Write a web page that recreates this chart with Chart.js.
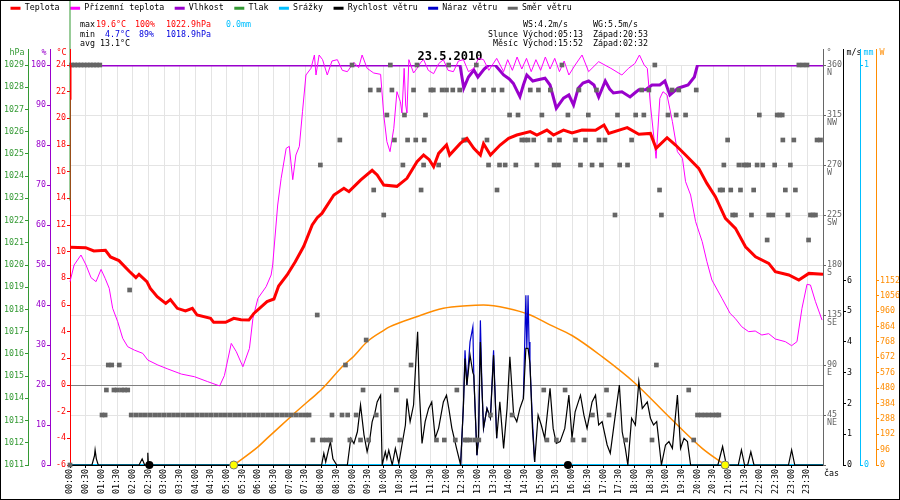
<!DOCTYPE html>
<html lang="cs">
<head>
<meta charset="UTF-8" />
<title>Meteo 23.5.2010</title>
<style>
  body{margin:0;background:#fff;}
  #wrap{position:relative;width:900px;height:500px;}
  #wrap canvas{position:absolute;left:0;top:0;}
  .t{position:absolute;font:8.3px/1 'DejaVu Sans Mono',monospace;white-space:pre;color:#000;}
  .r{color:#ff0000}.b{color:#0000dd}.c{color:#00bfff}
</style>
<script src="https://cdn.jsdelivr.net/npm/chart.js@4.4.0/dist/chart.umd.min.js"></script>
</head>
<body>
<div id="wrap">
  <canvas id="meteo"></canvas>
  <!-- souhrn dne -->
  <span class="t" style="left:80px;top:20px">max</span>
  <span class="t r" style="left:96px;top:20px">19.6°C</span>
  <span class="t r" style="left:135px;top:20px">100%</span>
  <span class="t r" style="left:166px;top:20px">1022.9hPa</span>
  <span class="t c" style="left:226px;top:20px">0.0mm</span>
  <span class="t" style="left:80px;top:30px">min</span>
  <span class="t b" style="left:105px;top:30px">4.7°C</span>
  <span class="t b" style="left:139px;top:30px">89%</span>
  <span class="t b" style="left:166px;top:30px">1018.9hPa</span>
  <span class="t" style="left:80px;top:39px">avg 13.1°C</span>
  <span class="t" style="left:523px;top:20px">WS:4.2m/s</span>
  <span class="t" style="left:593px;top:20px">WG:5.5m/s</span>
  <span class="t" style="left:488px;top:30px">Slunce</span>
  <span class="t" style="left:523px;top:30px">Východ:05:13</span>
  <span class="t" style="left:593px;top:30px">Západ:20:53</span>
  <span class="t" style="left:493px;top:39px">Měsíc</span>
  <span class="t" style="left:523px;top:39px">Východ:15:52</span>
  <span class="t" style="left:593px;top:39px">Západ:02:32</span>
</div>

<script>
// ===== data (čas v hodinách) =====
const tempTime  = [0,0,0, 0,0.5,0.76,1.13,1.29,1.56,1.88,2.1,2.2,2.45,2.56,2.78,3.05,3.2,3.42,3.68,3.9,4.05,4.48,4.58,4.96,5.22,5.45,5.7,5.86,6.28,6.5,6.65,6.92,7.18,7.45,7.72,7.88,8.03,8.41,8.73,8.89,9.26,9.63,9.79,10.0,10.42,10.74,11.06,11.27,11.45,11.59,11.75,12.0,12.1,12.44,12.65,12.87,13.08,13.18,13.4,13.71,13.98,14.24,14.67,14.88,15.2,15.41,15.73,16.0,16.32,16.75,17.02,17.17,17.76,18.13,18.5,18.68,19.03,19.3,19.62,20.04,20.3,20.57,20.89,21.21,21.53,21.85,22.27,22.48,22.91,23.23,23.55,24.0];
const tempValue = [24.0,21.4,null, 10.33,10.3,10.05,10.1,9.6,9.33,8.55,8.05,8.3,7.75,7.25,6.62,6.12,6.4,5.75,5.55,5.75,5.25,5.0,4.7,4.7,5.0,4.9,4.87,5.37,6.25,6.45,7.42,8.25,9.25,10.4,12.0,12.55,12.87,14.25,14.75,14.5,15.37,16.1,15.75,15.0,14.9,15.5,16.75,17.25,16.9,16.37,17.37,18.0,17.25,18.12,18.5,17.75,17.25,18.1,17.25,18.0,18.5,18.75,19.0,18.75,19.12,18.75,19.12,18.9,19.12,19.1,19.5,18.87,19.3,18.8,18.87,17.75,18.55,18.0,17.25,16.25,15.12,14.12,12.5,11.75,10.37,9.62,9.12,8.5,8.25,7.87,8.37,8.3];

const groundTime  = [0,0.13,0.35,0.51,0.67,0.83,0.99,1.12,1.25,1.36,1.52,1.68,1.84,2.05,2.32,2.48,2.8,3.12,3.55,3.97,4.39,4.77,4.92,5.14,5.3,5.51,5.72,5.83,5.99,6.25,6.41,6.46,6.62,6.73,6.89,6.99,7.1,7.2,7.31,7.41,7.52,7.68,7.79,7.84,7.94,8.05,8.2,8.35,8.52,8.68,8.84,9.05,9.2,9.31,9.47,9.68,9.9,10.0,10.1,10.2,10.32,10.42,10.53,10.58,10.65,10.7,10.74,10.8,10.95,11.06,11.18,11.27,11.42,11.59,11.75,11.9,12.05,12.22,12.38,12.54,12.7,12.87,13.02,13.18,13.35,13.6,13.82,13.95,14.1,14.25,14.4,14.55,14.7,14.85,15.0,15.15,15.3,15.45,15.6,15.75,15.9,16.1,16.32,16.53,16.85,17.24,17.59,17.8,18.0,18.15,18.3,18.4,18.5,18.68,18.8,18.9,19.03,19.2,19.36,19.52,19.62,19.78,19.94,20.15,20.3,20.46,20.78,21.04,21.2,21.41,21.63,21.84,22.05,22.27,22.48,22.8,23.0,23.17,23.33,23.49,23.6,23.76,23.97];
const groundValue = [7.75,9.0,9.75,9.0,8.05,7.75,8.67,8.0,7.25,5.75,4.75,3.5,2.87,2.62,2.37,1.87,1.5,1.2,0.82,0.62,0.25,-0.07,0.7,3.12,2.5,1.37,2.75,5.0,6.5,7.37,8.25,9.0,13.5,15.5,17.75,17.9,15.4,17.25,17.9,20.5,23.25,23.75,24.75,23.25,24.75,24.4,23.25,24.3,24.4,23.6,23.5,24.2,23.8,24.75,23.75,23.4,23.3,20.25,18.25,17.5,19.25,22.0,21.25,20.4,23.75,21.0,20.4,24.4,23.4,23.75,24.2,24.4,23.6,23.35,24.1,24.4,23.6,23.5,24.3,24.4,23.5,23.75,24.5,24.4,23.6,24.5,23.5,24.4,23.6,24.6,23.7,24.5,23.5,24.4,23.6,24.6,23.7,24.5,23.5,24.3,23.25,24.0,24.75,23.5,24.25,23.75,23.25,23.75,24.1,24.75,24.0,23.75,21.0,17.0,21.5,22.0,21.75,19.75,17.5,17.0,15.25,14.25,12.25,10.75,9.25,7.87,6.5,5.37,5.0,4.37,4.0,4.05,3.75,3.85,3.45,3.25,2.95,3.25,5.75,7.55,7.5,6.25,4.87];

const humTime  = [0,12.43,12.55,12.7,12.87,13.0,13.2,13.35,13.55,13.82,14.0,14.13,14.34,14.45,14.56,14.75,14.88,15.14,15.3,15.5,15.73,15.9,16.05,16.2,16.35,16.53,16.7,16.85,17.06,17.2,17.32,17.59,17.85,18.0,18.13,18.35,18.55,18.8,18.96,19.12,19.38,19.7,19.9,20.0,24];
const humValue = [100,100,94.2,97,98.75,97,99,100,100,97.5,96.5,95.4,92.1,95,97.5,96,96.25,96.7,95,89.2,91.7,92.5,90,94.2,95.5,96,95,92,96,94,93,93.3,92,93,93.8,93.8,95,95,96,92.5,94.2,95,97,100,100];

const pressTime  = [0,0];
const pressValue = [1022.9,1032];

const rainTime  = [0,24];
const rainValue = [0,0];

const windTime  = [0,0.7,0.78,0.8,0.84,0.9,2.2,2.3,2.38,2.46,2.48,2.5,7.9,8.02,8.09,8.15,8.3,8.38,8.5,8.84,8.95,9.05,9.16,9.26,9.37,9.47,9.55,9.63,9.72,9.79,9.9,9.95,10.05,10.1,10.16,10.27,10.37,10.48,10.58,10.69,10.74,10.84,10.95,11.04,11.08,11.13,11.22,11.32,11.43,11.53,11.64,11.75,11.9,12.0,12.08,12.17,12.32,12.45,12.54,12.59,12.65,12.75,12.84,12.87,12.97,13.02,13.08,13.13,13.18,13.29,13.4,13.5,13.6,13.7,13.82,13.93,14.02,14.14,14.24,14.34,14.45,14.53,14.6,14.66,14.74,14.81,14.92,15.02,15.13,15.3,15.4,15.5,15.62,15.77,15.9,16.0,16.1,16.27,16.38,16.48,16.64,16.75,16.85,16.96,17.12,17.22,17.38,17.51,17.6,17.7,17.78,17.9,18.02,18.13,18.24,18.4,18.5,18.6,18.7,18.85,18.98,19.09,19.2,19.36,19.46,19.57,19.68,19.78,20.65,20.8,20.92,21.3,21.4,21.5,21.6,21.7,21.8,22.9,23.0,23.1,24];
const windSpeed = [0,0,0.3,0.49,0.2,0,0,0.2,0,0,0.4,0,0,0,0.38,0.1,0.76,0.2,0,0,0.87,0.7,1.08,1.95,0.98,0.43,0.8,1.4,1.7,2.05,2.27,0,0.43,0.2,0.48,0,0.54,0.05,0.65,1.3,2.16,1.41,1.95,3.68,4.33,2.5,0.7,1.41,1.84,2.05,0.87,1.2,2.05,2.27,1.8,1.2,0.54,0,1.95,3.46,2.6,3.57,3.0,2.92,0.32,0.87,4.0,2.5,1.2,1.84,1.52,3.57,0.87,2.05,0.54,1.84,3.52,1.62,1.41,1.84,2.16,3.79,3.79,3.3,1.19,0.1,1.62,1.3,0.87,2.49,1.19,0.7,0.76,1.19,2.27,0.87,1.73,2.27,1.62,1.19,2.05,2.27,1.3,1.41,0.65,0.38,1.62,2.6,1.08,0.54,0,1.52,1.3,2.71,1.84,2.05,1.52,1.3,1.41,0,0.65,0.76,0.54,2.27,0.54,0.87,0.76,0,0,0.6,0,0,0.49,0,0,0.43,0,0,0.49,0,0];

const gustTime  = [12.45,12.54,12.59,12.65,12.75,12.84,12.87,12.97,13.02,13.08,13.13,13.18,13.29,13.4,13.5,13.6,14.0,14.45,14.53,14.56,14.6,14.63,14.66,14.74,14.81];
const gustSpeed = [0,1.95,3.73,2.6,4.0,4.49,2.92,0.32,0.87,4.7,2.5,1.2,1.84,1.52,3.73,0.87,null,2.16,5.52,3.8,5.52,4.0,3.3,1.4,0.1];

const dirTime  = [0,0.05,0.15,0.25,0.35,0.45,0.55,0.65,0.75,0.85,0.95,1.02,1.12,1.16,1.22,1.33,1.4,1.5,1.57,1.64,1.74,1.84,1.9,
  1.95,2.1,2.25,2.4,2.55,2.7,2.85,3.0,3.15,3.3,3.45,3.6,3.75,3.9,4.05,4.2,4.35,4.5,4.65,4.8,4.95,5.1,5.25,5.4,5.55,5.7,5.85,6.0,6.15,6.3,6.45,6.6,6.75,6.9,7.05,7.2,7.35,7.5,7.62,
  7.74,7.88,7.98,8.04,8.17,8.3,8.35,8.6,8.67,8.78,8.85,8.92,8.99,9.12,9.26,9.34,9.44,9.52,9.57,9.68,9.76,9.84,10.0,10.1,10.21,10.26,10.34,10.4,10.51,10.61,10.66,10.76,10.87,10.95,11.02,11.06,11.19,11.27,11.29,11.33,11.5,11.58,11.68,11.75,11.86,11.93,12.0,12.07,12.2,12.28,12.33,12.42,12.55,12.59,12.62,12.65,12.75,12.87,12.9,12.95,13.03,13.18,13.29,13.34,13.4,13.5,13.61,13.69,13.77,13.87,14.01,14.09,14.21,14.28,14.4,14.5,14.6,14.67,14.78,14.88,14.93,15.04,15.1,15.2,15.29,15.31,15.43,15.5,15.57,15.6,15.68,15.78,15.87,
  16.03,16.11,16.22,16.27,16.38,16.43,16.52,16.64,16.65,16.78,16.86,16.94,17.05,17.1,17.18,17.37,17.45,17.52,17.71,17.77,17.9,18.03,18.22,18.29,18.45,18.55,18.64,18.69,18.79,18.85,19.06,19.19,19.32,19.4,19.62,19.72,19.88,19.96,
  20.0,20.12,20.24,20.36,20.48,20.6,20.68,20.72,20.8,20.84,20.96,21.06,21.12,21.21,21.32,21.37,21.47,21.55,21.63,21.72,21.79,21.9,21.97,22.08,22.22,22.27,22.4,22.46,22.54,22.62,22.7,22.72,22.8,22.88,22.96,23.07,23.12,23.23,23.36,23.49,23.54,23.6,23.68,23.76,23.81,23.92];
const dirValue = [0,360,360,360,360,360,360,360,360,360,360,45,45,67.5,90,90,67.5,67.5,90,67.5,67.5,67.5,157.5,
  45,45,45,45,45,45,45,45,45,45,45,45,45,45,45,45,45,45,45,45,45,45,45,45,45,45,45,45,45,45,45,45,45,45,45,45,45,45,45,
  22.5,135,270,22.5,22.5,22.5,45,292.5,45,90,45,22.5,360,45,22.5,67.5,112.5,22.5,337.5,247.5,45,337.5,225,315,360,337.5,292.5,67.5,22.5,270,315,292.5,90,337.5,292.5,360,247.5,270,292.5,315,337.5,337.5,22.5,270,337.5,22.5,337.5,360,337.5,22.5,67.5,337.5,292.5,22.5,292.5,22.5,22.5,337.5,22.5,360,22.5,337.5,292.5,270,45,337.5,247.5,270,337.5,270,315,45,270,315,292.5,292.5,292.5,337.5,292.5,270,337.5,315,67.5,22.5,292.5,337.5,270,22.5,270,292.5,360,67.5,315,
  22.5,292.5,337.5,270,22.5,292.5,315,270,45,337.5,292.5,270,292.5,67.5,45,225,315,270,22.5,270,292.5,315,337.5,315,337.5,22.5,360,90,247.5,225,315,337.5,315,337.5,315,67.5,22.5,337.5,
  45,45,45,45,45,45,45,247.5,247.5,270,292.5,247.5,225,225,270,247.5,270,270,270,225,247.5,270,315,270,202.5,225,225,270,315,315,315,292.5,247.5,225,270,292.5,247.5,360,360,360,202.5,225,225,225,292.5,292.5];

const solarTime  = [5.22,6.0,6.28,7.0,7.15,7.88,8.0,8.73,9.0,9.47,10.0,10.2,11.0,11.9,12.65,13.18,13.93,14.67,15.3,16.0,16.96,18.0,19.09,20.15,20.88];
const solarValue = [0,115,166,295,322,447,468,624,670,769,840,863,922,978,994,998,978,936,874,808,676,512,301,104,0];

const sunTimes  = [5.22,20.88];   // východ / západ slunce
const moonTimes = [2.53,15.87];   // západ / východ měsíce

const compass = ['','NE','E','SE','S','SW','W','NW','N'];
const axisUnits = {press:'hPa', hum:'%', temp:'°C', dir:'°', wind:'m/s', rain:'mm', solar:'W'};

// ===== barvy =====
const RED='#ff0000', MAG='#ff00ff', PUR='#9900cc', GRN='#339933', CYA='#00bfff', BLU='#0000cc', GRY='#666666', ORA='#ff8c00';

const pts = (xs, ys) => xs.map((x, i) => ({x: x, y: ys[i]}));
const hhmm = v => String(Math.floor(v)).padStart(2,'0') + ':' + (v % 1 ? '30' : '00');

Chart.defaults.font.family = "'DejaVu Sans Mono', monospace";
Chart.defaults.font.size = 8.3;
Chart.defaults.color = '#000';

function yAxis(pos, color, min, max, step, width, more) {
  return Object.assign({
    type: 'linear', position: pos, min: min, max: max,
    ticks: {stepSize: step, color: color, padding: 1, autoSkip: false, callback: v => String(v)},
    grid: {drawOnChartArea: false, tickColor: color, tickLength: 3},
    border: {color: color},
    afterFit: s => { s.width = width; }
  }, more || {});
}

// popisky jednotek nad osami, prodloužení os, rámeček
const decor = {
  id: 'decor',
  afterDraw(chart) {
    const {ctx, chartArea: a, scales} = chart;
    ctx.save();
    ctx.font = "8.3px 'DejaVu Sans Mono', monospace";
    ctx.textBaseline = 'middle';
    ctx.lineWidth = 1;
    for (const id in axisUnits) {
      const s = scales[id];
      const left = s.position === 'left';
      const bx = Math.round((left ? s.right : s.left) - 0.5) + 0.5;
      ctx.strokeStyle = s.options.border.color;
      ctx.beginPath(); ctx.moveTo(bx, a.top); ctx.lineTo(bx, a.top - 16); ctx.stroke();
      ctx.fillStyle = s.options.ticks.color;
      ctx.textAlign = left ? 'right' : 'left';
      ctx.fillText(axisUnits[id], left ? bx - 4 : bx + 3, a.top - 12);
    }
    ctx.fillStyle = '#000'; ctx.textAlign = 'left';
    ctx.fillText('čas', a.right + 1, a.bottom + 9);
    ctx.strokeStyle = '#000';
    ctx.strokeRect(0.5, 0.5, chart.width - 1, chart.height - 1);
    ctx.restore();
  }
};

new Chart(document.getElementById('meteo'), {
  type: 'line',
  data: {
    datasets: [
      {label:'Teplota', data: pts(tempTime, tempValue), yAxisID:'temp', borderColor:RED, backgroundColor:RED, borderWidth:3, pointRadius:0, order:1},
      {label:'Přízemní teplota', data: pts(groundTime, groundValue), yAxisID:'temp', borderColor:MAG, backgroundColor:MAG, borderWidth:1, pointRadius:0, order:3, clip:false},
      {label:'Vlhkost', data: pts(humTime, humValue), yAxisID:'hum', borderColor:PUR, backgroundColor:PUR, borderWidth:3, pointRadius:0, order:4},
      {label:'Tlak', data: pts(pressTime, pressValue), yAxisID:'press', borderColor:GRN, backgroundColor:GRN, borderWidth:1, pointRadius:0, order:5, clip:false},
      {label:'Srážky', data: pts(rainTime, rainValue), yAxisID:'rain', borderColor:CYA, backgroundColor:CYA, borderWidth:2, pointRadius:0, order:8},
      {label:'Rychlost větru', data: pts(windTime, windSpeed), yAxisID:'wind', borderColor:'#000', backgroundColor:'#000', borderWidth:1.2, pointRadius:0, order:6},
      {label:'Náraz větru', data: pts(gustTime, gustSpeed), yAxisID:'wind', borderColor:BLU, backgroundColor:BLU, borderWidth:1.2, pointRadius:0, order:7, spanGaps:false},
      {label:'Směr větru', data: pts(dirTime, dirValue), yAxisID:'dir', showLine:false, pointStyle:'rect', pointRadius:3.3,
        pointBackgroundColor:GRY, pointBorderWidth:0, borderColor:GRY, backgroundColor:GRY, borderWidth:3, order:2, clip:false},
      {label:'Sluneční záření', noLegend:true, data: pts(solarTime, solarValue), yAxisID:'solar', borderColor:ORA, borderWidth:1.5,
        pointRadius:0, cubicInterpolationMode:'monotone', order:9},
      {label:'Slunce', noLegend:true, data: pts(sunTimes, [0,0]), yAxisID:'solar', showLine:false, pointRadius:4,
        pointBackgroundColor:'#ffff00', pointBorderColor:'#777', pointBorderWidth:1, order:0, clip:false},
      {label:'Měsíc', noLegend:true, data: pts(moonTimes, [0,0]), yAxisID:'solar', showLine:false, pointRadius:4,
        pointBackgroundColor:'#000', pointBorderColor:'#000', pointBorderWidth:0, order:0, clip:false}
    ]
  },
  options: {
    responsive: true, maintainAspectRatio: false, animation: false,
    layout: {padding: {top: -6.5, left: 0, right: 0, bottom: 0}},
    plugins: {
      legend: {
        align: 'start',
        labels: {
          usePointStyle: true, pointStyle: 'line', pointStyleWidth: 10, padding: 10.5, color: '#000',
          generateLabels: chart => Chart.defaults.plugins.legend.labels.generateLabels(chart).map(it => Object.assign(it, {lineWidth: 3})),
          filter: (it, data) => !data.datasets[it.datasetIndex].noLegend,
          sort: (a, b) => a.datasetIndex - b.datasetIndex
        }
      },
      title: {display: true, text: '23.5.2010', weight: 500, color: '#000',
        font: {size: 12, weight: 'bold', lineHeight: 1}, padding: {top: 28.7, bottom: 2}},
      tooltip: {enabled: false}
    },
    scales: {
      x: {
        type: 'linear', position: 'bottom', min: 0, max: 24,
        ticks: {stepSize: 0.5, autoSkip: false, minRotation: 90, maxRotation: 90, padding: 1, color: '#000', callback: v => hhmm(v)},
        grid: {color: '#e4e4e4', tickColor: '#000', tickLength: 3},
        border: {color: '#000'},
        afterBuildTicks: s => { s.ticks = s.ticks.filter(t => t.value < 24); },
        afterFit: s => { s.height = 35; }
      },
      temp: yAxis('left', RED, -6, 24, 2, 20, {
        grid: {drawOnChartArea: true, color: c => c.tick && c.tick.value === 0 ? '#808080' : 'rgba(0,0,0,0)', tickColor: RED, tickLength: 3}
      }),
      hum: yAxis('left', PUR, 0, 100, 10, 22),
      press: yAxis('left', GRN, 1011, 1029, 1, 28),
      dir: yAxis('right', GRY, 0, 360, 45, 20, {
        ticks: {stepSize: 45, color: GRY, padding: 1, autoSkip: false, font: {lineHeight: 1},
          callback: v => v === 0 ? '' : ['', String(v), compass[v / 45]]},
        grid: {drawOnChartArea: true, color: '#e4e4e4', tickColor: GRY, tickLength: 3}
      }),
      wind: yAxis('right', '#000', 0, 13, 1, 17, {
        afterBuildTicks: s => { s.ticks = s.ticks.filter(t => t.value <= 6); }
      }),
      rain: yAxis('right', CYA, 0, 1, 1, 16),
      solar: yAxis('right', ORA, 0, 2496, 96, 24, {
        afterBuildTicks: s => { s.ticks = s.ticks.filter(t => t.value <= 1152); }
      })
    }
  },
  plugins: [decor]
});
</script>
</body>
</html>
